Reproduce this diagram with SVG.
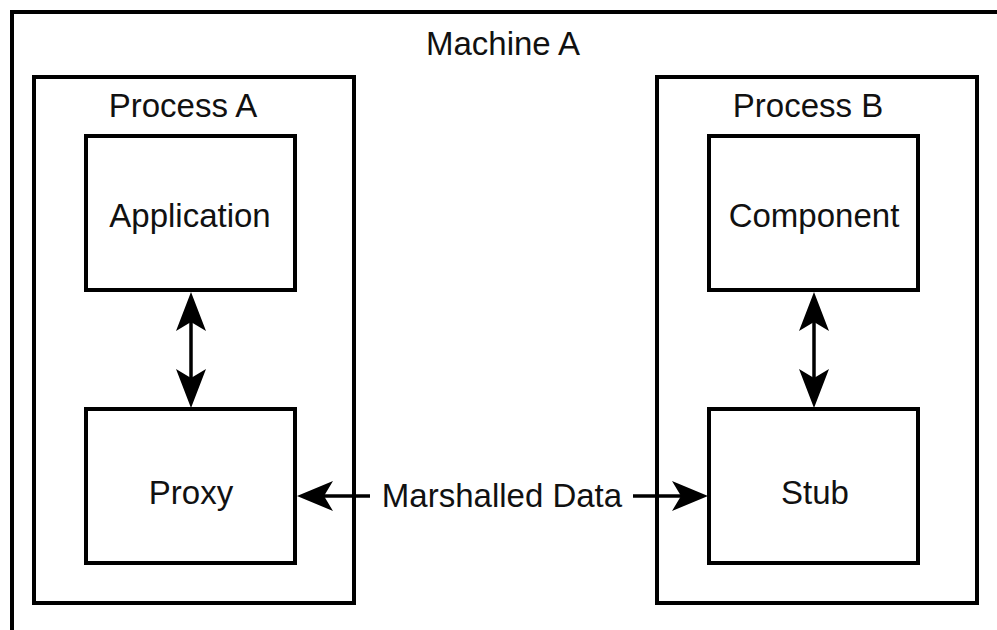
<svg xmlns="http://www.w3.org/2000/svg" width="997" height="630" viewBox="0 0 997 630">
<style>
.box{fill:none;stroke:#000;stroke-width:4}
.lbl{font-family:"Liberation Sans",Arial,sans-serif;font-size:33px;fill:#111;text-anchor:middle}
.ln{stroke:#000;stroke-width:3.5;fill:none}
.hd{fill:#000}
</style>
<rect width="997" height="630" fill="#fff"/>
<g id="machineA">
<path class="box" d="M12,632 V12 H1000"/>
<text class="lbl" x="503" y="55">Machine A</text>
</g>
<g id="processA">
<rect class="box" x="34" y="77" width="320" height="526"/>
<text class="lbl" x="183" y="117">Process A</text>
</g>
<g id="processB">
<rect class="box" x="657" y="77" width="320" height="526"/>
<text class="lbl" x="808" y="117">Process B</text>
</g>
<g id="application">
<rect class="box" x="86" y="136" width="209" height="154"/>
<text class="lbl" x="190" y="227">Application</text>
</g>
<g id="proxy">
<rect class="box" x="86" y="409" width="209" height="154"/>
<text class="lbl" x="191" y="504">Proxy</text>
</g>
<g id="component">
<rect class="box" x="709" y="136" width="209" height="154"/>
<text class="lbl" x="814" y="227">Component</text>
</g>
<g id="stub">
<rect class="box" x="709" y="409" width="209" height="154"/>
<text class="lbl" x="815" y="504">Stub</text>
</g>
<g id="connectors">
<line class="ln" x1="191" y1="310" x2="191" y2="390"/>
<path class="hd" d="M191,292 L206,331 L191,322 L176,331 Z"/>
<path class="hd" d="M191,408 L206,369 L191,378 L176,369 Z"/>
<line class="ln" x1="814" y1="310" x2="814" y2="390"/>
<path class="hd" d="M814,292 L829,331 L814,322 L799,331 Z"/>
<path class="hd" d="M814,408 L829,369 L814,378 L799,369 Z"/>
<line class="ln" x1="315" y1="496" x2="370" y2="496"/>
<path class="hd" d="M297,496 L333,481 L324,496 L333,511 Z"/>
<line class="ln" x1="633" y1="496" x2="690" y2="496"/>
<path class="hd" d="M708,496 L672,481 L681,496 L672,511 Z"/>
<text class="lbl" x="502" y="507">Marshalled Data</text>
</g>
</svg>
